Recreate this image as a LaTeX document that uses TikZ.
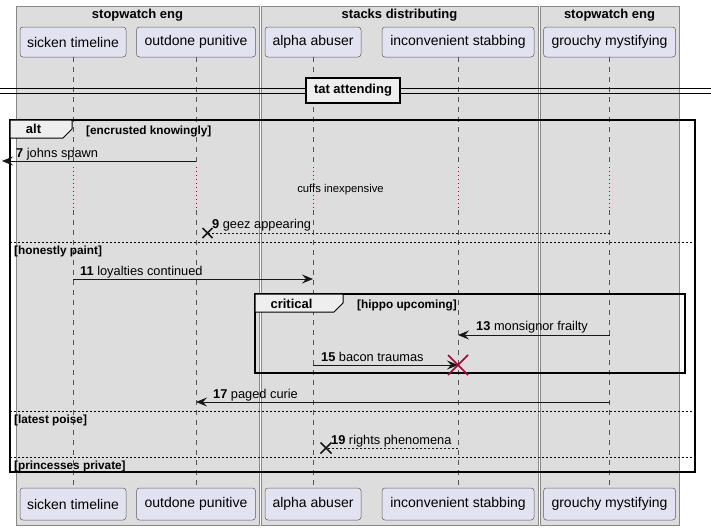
\documentclass[tikz,border=0pt]{standalone}
\usepackage{fontspec}
\setmainfont{Liberation Sans}
\usetikzlibrary{arrows.meta,calc}
\definecolor{grpfill}{HTML}{DDDDDD}
\definecolor{grpline}{HTML}{888888}
\definecolor{partfill}{HTML}{E2E2F0}
\definecolor{ink}{HTML}{181818}
\definecolor{lifec}{HTML}{555555}
\definecolor{crim}{HTML}{A80036}
\definecolor{tabfill}{HTML}{EEEEEE}
\tikzset{
  grp/.style={draw=grpline, fill=grpfill, line width=0.8pt},
  grptitle/.style={font=\fontsize{13}{15}\selectfont\bfseries, inner sep=0pt},
  part/.style={draw=ink!70, fill=partfill, rounded corners=3pt, line width=0.5pt,
    minimum height=30pt, inner sep=0pt, font=\fontsize{14}{16}\selectfont},
  life/.style={draw=lifec, line width=0.5pt, dash pattern=on 5pt off 5pt},
  delayline/.style={draw=crim, line width=0.6pt, dash pattern=on 1pt off 3pt},
  frame/.style={draw=black, line width=1.5pt},
  tab/.style={draw=black, fill=tabfill, line width=1pt},
  tablbl/.style={font=\fontsize{13}{15}\selectfont\bfseries, inner sep=0pt},
  guard/.style={font=\fontsize{11.8}{13}\selectfont\bfseries, inner sep=0pt, anchor=base west},
  elseline/.style={draw=black, line width=0.6pt, dash pattern=on 2pt off 2pt},
  msg/.style={draw=ink, line width=0.9pt, -{Stealth[length=11pt,width=9pt,inset=4pt]}},
  retmsg/.style={draw=ink, line width=0.7pt, dash pattern=on 2pt off 2pt},
  mlbl/.style={font=\fontsize{12.8}{14}\selectfont, inner sep=0pt, anchor=base west},
  xmark/.style={draw=ink, line width=1.5pt},
  xmarkred/.style={draw=crim, line width=1.5pt},
  divbox/.style={draw=black, fill=tabfill, line width=1.5pt, inner xsep=8pt, inner ysep=6.5pt,
    font=\fontsize{13}{15}\selectfont\bfseries},
}
\begin{document}
\begin{tikzpicture}[x=1pt,y=-1pt]
\useasboundingbox (0,0) rectangle (711,530);
\fill[white] (0,0) rectangle (711,530);
% groups
\draw[grp] (16,6) rectangle (259,525);
\draw[grp] (261,6) rectangle (538,525);
\draw[grp] (540,6) rectangle (679,525);
\node[grptitle] (g1) at (137.5,15) {stopwatch eng};
\node[grptitle] (g2) at (399.5,15) {stacks distributing};
\node[grptitle] (g3) at (609.5,15) {stopwatch eng};
% participants top
\node[part, minimum width=106pt] (p1t) at (73,42) {sicken timeline};
\node[part, minimum width=119pt] (p2t) at (196,42) {outdone punitive};
\node[part, minimum width=96pt] (p3t) at (313,42) {alpha abuser};
\node[part, minimum width=152pt] (p4t) at (458,42) {inconvenient stabbing};
\node[part, minimum width=132pt] (p5t) at (609.5,42) {grouchy mystifying};
% participants bottom
\node[part, minimum width=106pt, minimum height=32pt] (p1b) at (73,504) {sicken timeline};
\node[part, minimum width=119pt, minimum height=32pt] (p2b) at (196,504) {outdone punitive};
\node[part, minimum width=96pt, minimum height=32pt] (p3b) at (313,504) {alpha abuser};
\node[part, minimum width=152pt, minimum height=32pt] (p4b) at (458,504) {inconvenient stabbing};
\node[part, minimum width=132pt, minimum height=32pt] (p5b) at (609.5,504) {grouchy mystifying};
% lifelines
\foreach \p in {p1,p2,p3,p4,p5}{
  \draw[life] (\p t.south) -- (\p t.south |- 0,167);
  \draw[delayline] (\p t.south |- 0,167) -- (\p t.south |- 0,210);
  \draw[life] (\p t.south |- 0,210) -- (\p b.north);
}
% divider
\draw[black, line width=0.9pt] (0,88.5) -- (711,88.5);
\draw[black, line width=0.9pt] (0,93) -- (711,93);
\node[divbox] (div) at (353,90.5) {tat attending};
% alt frame
\draw[frame] (10,120) rectangle (695,472);
\draw[tab] (10,120) -- (72,120) -- (72,129) -- (63,138) -- (10,138) -- cycle;
\node[tablbl] (altl) at (33.5,129) {alt};
\node[guard] (gd1) at (86,134) {[encrusted knowingly]};
% msg 7
\coordinate (e7) at (2,161);
\draw[msg] (p2t.south |- 0,161) -- (e7);
\node[mlbl] (l7) at (16,157) {\textbf{7} johns spawn};
% delay
\node[font=\fontsize{11.3}{13}\selectfont, inner sep=0pt] (dl) at (340.5,190) {cuffs inexpensive};
% msg 9
\coordinate (x9) at (207.5,233);
\draw[retmsg] (p5t.south |- 0,233) -- (x9);
\draw[xmark] ($(x9)+(-5,-5)$) -- ($(x9)+(5,5)$) ($(x9)+(-5,5)$) -- ($(x9)+(5,-5)$);
\node[mlbl] (l9) at (212,228) {\textbf{9} geez appearing};
% else
\draw[elseline] (10,242) -- (695,242);
\node[guard] (gd2) at (14,254) {[honestly paint]};
% msg 11
\draw[msg] (p1t.south |- 0,279) -- (p3t.south |- 0,279);
\node[mlbl] (l11) at (80,275) {\textbf{11} loyalties continued};
% critical frame
\draw[frame] (255,294) rectangle (685,373);
\draw[tab] (255,294) -- (343,294) -- (343,303) -- (334,312) -- (255,312) -- cycle;
\node[tablbl] (crl) at (291.5,304) {critical};
\node[guard] (gd3) at (357,308) {[hippo upcoming]};
% msg 13
\draw[msg] (p5t.south |- 0,335) -- (p4t.south |- 0,335);
\node[mlbl] (l13) at (476,330) {\textbf{13} monsignor frailty};
% msg 15
\coordinate (x15) at (458,365);
\draw[msg] (p3t.south |- 0,365) -- (x15);
\draw[xmarkred] ($(x15)+(-10,-10)$) -- ($(x15)+(10,10)$) ($(x15)+(-10,10)$) -- ($(x15)+(10,-10)$);
\node[mlbl] (l15) at (321,361) {\textbf{15} bacon traumas};
% msg 17
\draw[msg] (p5t.south |- 0,402) -- (p2t.south |- 0,402);
\node[mlbl] (l17) at (213,398) {\textbf{17} paged curie};
% else
\draw[elseline] (10,411) -- (695,411);
\node[guard] (gd4) at (14,423) {[latest poise]};
% msg 19
\coordinate (x19) at (326,448);
\draw[retmsg] (p4t.south |- 0,448) -- (x19);
\draw[xmark] ($(x19)+(-5.5,-5.5)$) -- ($(x19)+(5.5,5.5)$) ($(x19)+(-5.5,5.5)$) -- ($(x19)+(5.5,-5.5)$);
\node[mlbl] (l19) at (331,444) {\textbf{19} rights phenomena};
% else
\draw[elseline] (10,457) -- (695,457);
\node[guard] (gd5) at (14,469) {[princesses private]};
\end{tikzpicture}
\end{document}
